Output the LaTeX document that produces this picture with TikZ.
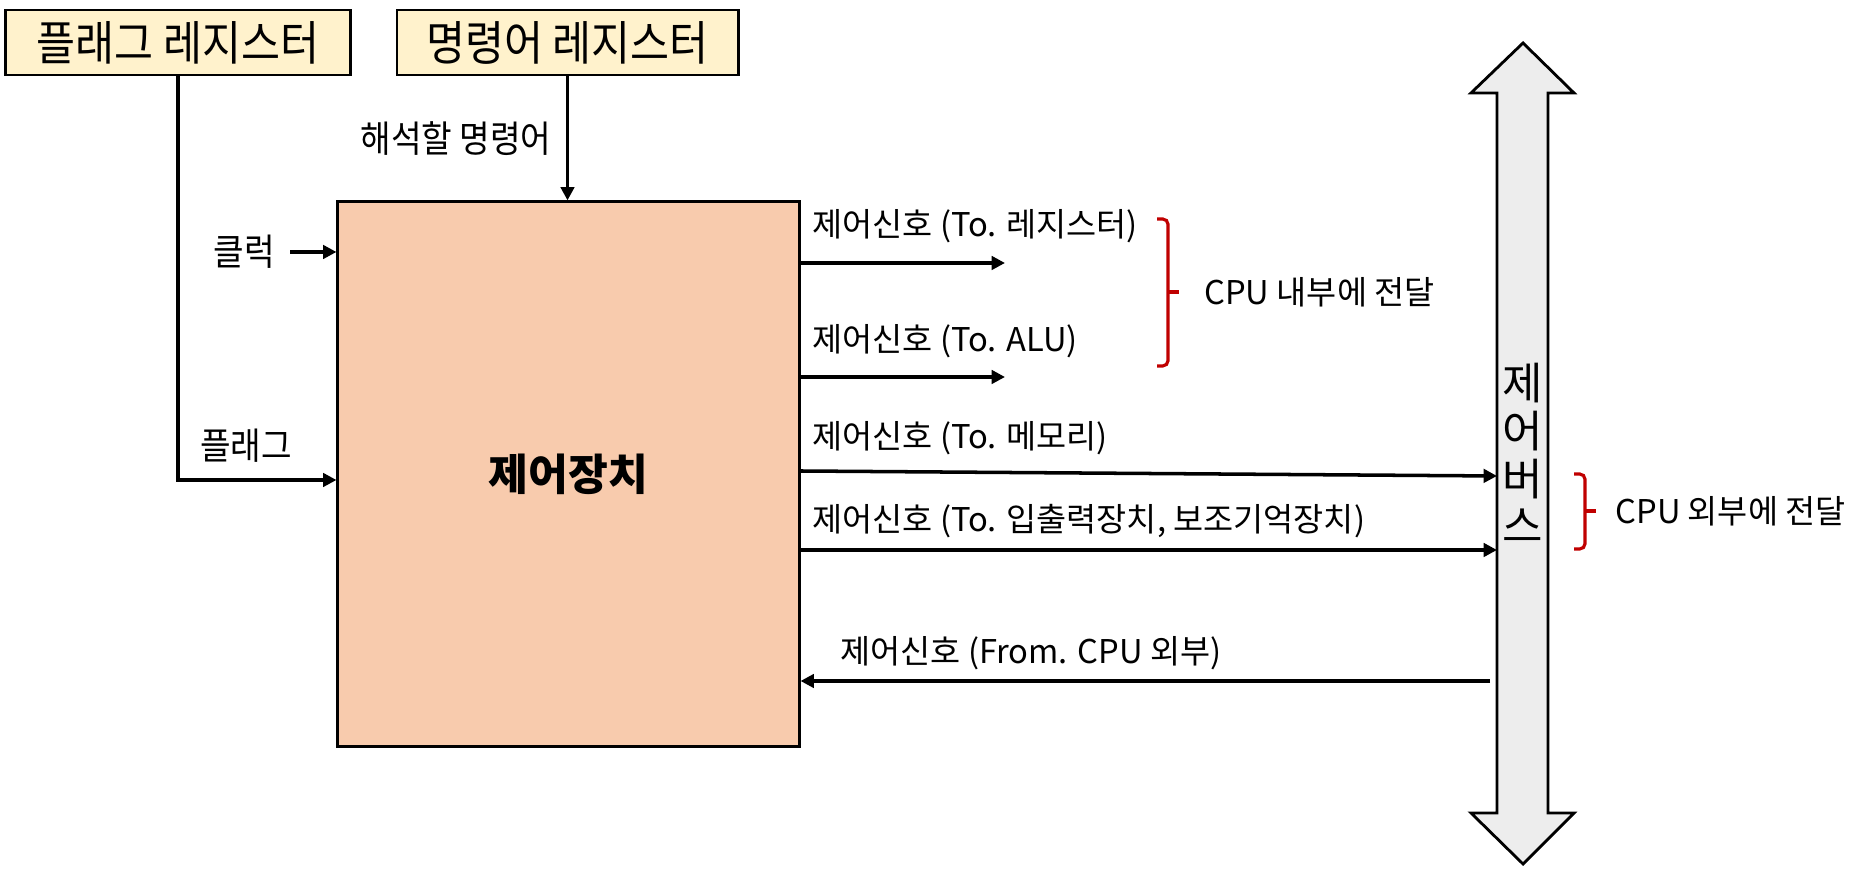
\documentclass[tikz,border=0pt]{standalone}
\usepackage{fontspec}
\setmainfont{Noto Sans CJK KR}
\newfontfamily\headfont[FakeStretch=0.9]{Noto Sans CJK KR}
\usetikzlibrary{arrows.meta}
\definecolor{regfill}{HTML}{FFF2CC}
\definecolor{cufill}{HTML}{F8CBAD}
\definecolor{busfill}{HTML}{EDEDED}
\definecolor{brred}{HTML}{C00000}
\begin{document}
\begin{tikzpicture}[>={Triangle[length=3.8pt,width=3.8pt]}, x=0.01cm, y=-0.01cm, line width=0.8pt]
\tikzstyle{reg}=[draw, fill=regfill, inner sep=0pt, minimum height=0.65cm, font=\headfont\fontsize{13.4}{15}\selectfont]
\tikzstyle{lbl}=[inner sep=0pt, font=\fontsize{9.3}{11}\selectfont]
\tikzstyle{nlbl}=[inner sep=0pt, font=\headfont\fontsize{10.5}{12}\selectfont]
\tikzstyle{conn}=[->, line width=1pt]
\tikzstyle{brc}=[draw=brred, line width=0.9pt, rounded corners=1.5pt]
\useasboundingbox (0,0) rectangle (1858,874);
%
\node[reg, minimum width=3.44cm](fr) at (178,42.5) {플래그 레지스터};
\node[reg, minimum width=3.41cm](ir) at (567.5,42.5) {명령어 레지스터};
\node[draw, fill=cufill, minimum width=4.61cm, minimum height=5.44cm, font=\bfseries\fontsize{12.3}{14}\selectfont](cu) at (568.5,474) {제어장치};
%
\node[nlbl](ins) at (456,139) {해석할 명령어};
\draw[conn] (ir.south) -- (ir.south |- cu.north);
\node[nlbl, anchor=east](clk) at (276,252) {클럭};
\draw[conn] ([xshift=0.14cm]clk.east) -- (clk.east -| cu.west);
\node[nlbl](flg) at (246,446) {플래그};
\draw[conn] (fr.south) |- ([yshift=-0.06cm]cu.west);
%
\draw[fill=busfill] (1523,43) -- (1574,93) -- (1548,93) -- (1548,813) -- (1574,813) -- (1523,864)
  -- (1471,813) -- (1497,813) -- (1497,93) -- (1471,93) -- cycle;
\node[align=center, inner sep=0pt, font=\fontsize{12.5}{13.6}\selectfont](bus) at (1523,453) {제\\어\\버\\스};
%
\coordinate (toreg) at (1005,263);
\coordinate (toalu) at (1005,377);
\coordinate (tomem) at (1497,476);
\coordinate (toio) at (1497,550);
\coordinate (fromext) at (1490,681);
\draw[conn] (cu.east |- toreg) -- (toreg);
\draw[conn] (cu.east |- toalu) -- (toalu);
\draw[conn] (cu.east |- 0,471) -- (tomem);
\draw[conn] (cu.east |- toio) -- (toio);
\draw[conn] (fromext) -- (fromext -| cu.east);
%
\node[lbl, anchor=west](s1) at (811,226) {제어신호 (To. 레지스터)};
\node[lbl, anchor=west](s2) at (811,341) {제어신호 (To. ALU)};
\node[lbl, anchor=west](s3) at (811,438) {제어신호 (To. 메모리)};
\node[lbl, anchor=west](s4) at (811,521) {제어신호 (To. 입출력장치, 보조기억장치)};
\node[lbl, anchor=west](s5) at (839,653) {제어신호 (From. CPU 외부)};
%
\draw[brc] (1157,219) -- (1168,219) -- (1168,366) -- (1157,366);
\draw[brc] (1168,292) -- (1179,292);
\node[lbl, anchor=west](inl) at (1203,292) {CPU 내부에 전달};
\draw[brc] (1574,474) -- (1585,474) -- (1585,549) -- (1574,549);
\draw[brc] (1585,511) -- (1596,511);
\node[lbl, anchor=west](exl) at (1614,511) {CPU 외부에 전달};
\end{tikzpicture}
\end{document}
